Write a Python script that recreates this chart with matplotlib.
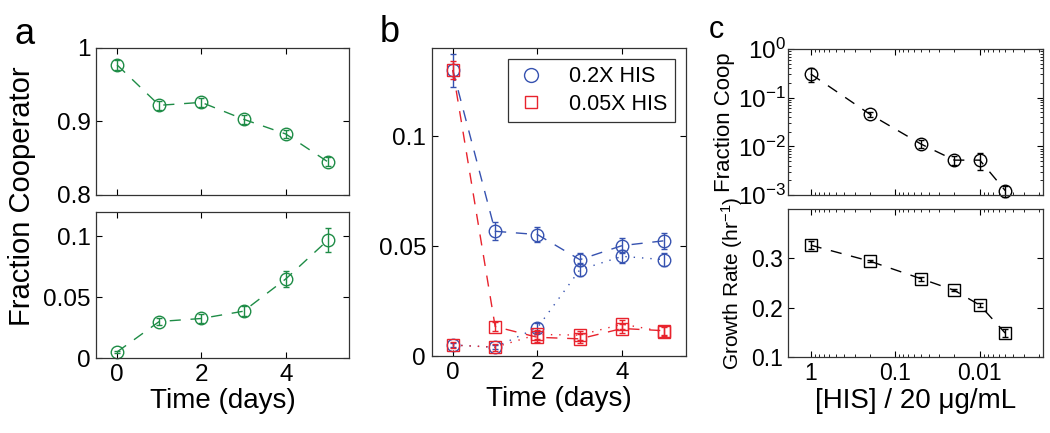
import numpy as np
import matplotlib
matplotlib.use('Agg')
import matplotlib.pyplot as plt
from matplotlib.lines import Line2D
from matplotlib.ticker import FixedLocator, NullFormatter

plt.rcParams['font.family'] = ['Liberation Sans', 'DejaVu Sans']
plt.rcParams['mathtext.default'] = 'regular'
plt.rcParams['xtick.direction'] = 'in'
plt.rcParams['ytick.direction'] = 'in'
plt.rcParams['xtick.top'] = True
plt.rcParams['ytick.right'] = True
plt.rcParams['axes.linewidth'] = 0.9
plt.rcParams['axes.edgecolor'] = '#333333'

# panel a
days = [0, 1, 2, 3, 4, 5]
coop_top = [0.977, 0.922, 0.926, 0.903, 0.883, 0.845]
coop_top_err = [0.007, 0.006, 0.006, 0.006, 0.006, 0.006]
coop_bot = [0.005, 0.030, 0.0325, 0.0385, 0.065, 0.097]
coop_bot_err = [0.001, 0.003, 0.004, 0.004, 0.0065, 0.010]

# panel b
his02_dash = [0.130, 0.0567, 0.0552, 0.0438, 0.0502, 0.0524]
his02_dash_err = [0.0075, 0.004, 0.0036, 0.003, 0.0034, 0.0037]
his02_dot = [0.005, 0.004, 0.0129, 0.0392, 0.0453, 0.0438]
his02_dot_err = [0.001, 0.001, 0.002, 0.003, 0.003, 0.003]
his005_dash = [0.130, 0.0134, 0.0085, 0.0078, 0.0125, 0.0115]
his005_dash_err = [0.004, 0.002, 0.002, 0.002, 0.002, 0.002]
his005_dot = [0.005, 0.004, 0.0098, 0.0095, 0.0145, 0.0110]
his005_dot_err = [0.0015, 0.0015, 0.002, 0.002, 0.002, 0.002]
legend_labels = ['0.2X HIS', '0.05X HIS']

# panel c
his_conc = [1, 0.2, 0.05, 0.02, 0.01, 0.005]
frac_coop = [0.307, 0.0457, 0.0112, 0.0052, 0.0052, 0.00123]
frac_coop_err = [0.1, 0.005, 0.002, 0.001, 0.002, 0.0003]
growth = [0.327, 0.2945, 0.259, 0.235, 0.205, 0.148]
growth_err = [0.008, 0.002, 0.004, 0.002, 0.004, 0.008]

green = '#1e8c46'
blue = '#3652b0'
red = '#e8232d'
dash = (8, 7)
dot = (1, 5)
tick_fs = 17.5

fig = plt.figure(figsize=(10.5, 4.33), dpi=100)

def series(ax, x, y, e, c, marker, ms, dashes):
    ax.plot(x, y, color=c, lw=1.0, dashes=dashes, marker=marker, ms=ms,
            mfc='none', mec=c, mew=1.0, clip_on=False)
    ax.errorbar(x, y, yerr=e, fmt='none', ecolor=c, elinewidth=1.0,
                capsize=2.5, capthick=1.0, clip_on=False)

# ---- a
a1 = fig.add_axes([0.0914, 0.5497, 0.241, 0.3395])
series(a1, days, coop_top, coop_top_err, green, 'o', 9, dash)
a1.set_xlim(-0.5, 5.5)
a1.set_ylim(0.8, 1.0)
a1.set_yticks([0.8, 0.9, 1.0])
a1.set_yticklabels(['0.8', '0.9', '1'])
a1.set_xticks([0, 2, 4])
a1.set_xticklabels([])

a2 = fig.add_axes([0.0914, 0.1732, 0.241, 0.337])
series(a2, days, coop_bot, coop_bot_err, green, 'o', 9, dash)
a2.set_xlim(-0.5, 5.5)
a2.set_ylim(0, 0.12)
a2.set_yticks([0, 0.05, 0.1])
a2.set_yticklabels(['0', '0.05', '0.1'])
a2.set_xticks([0, 2, 4])
a2.set_xlabel('Time (days)', fontsize=20, labelpad=2)
for ax in (a1, a2):
    ax.tick_params(labelsize=tick_fs, length=4, width=0.8, pad=4)
fig.text(0.021, 1 - 196 / 433, 'Fraction Cooperator', rotation=90,
         fontsize=21, ha='center', va='center')

# ---- b
b = fig.add_axes([0.4111, 0.1778, 0.2419, 0.7113])
series(b, days, his02_dash, his02_dash_err, blue, 'o', 9, dash)
series(b, days, his02_dot, his02_dot_err, blue, 'o', 9, dot)
series(b, days, his005_dash, his005_dash_err, red, 's', 8, dash)
series(b, days, his005_dot, his005_dot_err, red, 's', 8, dot)
b.set_xlim(-0.5, 5.5)
b.set_ylim(0, 0.14)
b.set_yticks([0, 0.05, 0.1])
b.set_yticklabels(['0', '0.05', '0.1'])
b.set_xticks([0, 2, 4])
b.set_xlabel('Time (days)', fontsize=20, labelpad=2)
b.tick_params(labelsize=tick_fs, length=4, width=0.8, pad=4)
handles = [Line2D([], [], ls='none', marker='o', ms=10, mfc='none', mec=blue, mew=1.0),
           Line2D([], [], ls='none', marker='s', ms=9, mfc='none', mec=red, mew=1.0)]
leg = b.legend(handles, legend_labels, loc='upper right', fontsize=15.5,
               fancybox=False, edgecolor='#333333', framealpha=1,
               handlelength=1.5, handletextpad=1.0, borderpad=0.35,
               labelspacing=0.3, borderaxespad=0.5)
leg.get_frame().set_linewidth(0.9)

# ---- c
c1 = fig.add_axes([0.7508, 0.5497, 0.2423, 0.3372])
series(c1, his_conc, frac_coop, frac_coop_err, 'black', 'o', 9, dash)
c1.set_xscale('log')
c1.set_yscale('log')
c1.set_xlim(1.84, 0.0018)
c1.set_ylim(1e-3, 1)
c1.set_yticks([1e-3, 1e-2, 1e-1, 1])
c1.xaxis.set_major_locator(FixedLocator([1, 0.1, 0.01]))
c1.xaxis.set_major_formatter(NullFormatter())
c1.xaxis.set_minor_formatter(NullFormatter())
c1.set_ylabel('Fraction Coop', fontsize=16, labelpad=2)

c2 = fig.add_axes([0.7508, 0.1762, 0.2423, 0.3404])
series(c2, his_conc, growth, growth_err, 'black', 's', 8, dash)
c2.set_xscale('log')
c2.set_xlim(1.84, 0.0018)
c2.set_ylim(0.1, 0.4)
c2.set_yticks([0.1, 0.2, 0.3])
c2.set_yticklabels(['0.1', '0.2', '0.3'])
c2.xaxis.set_major_locator(FixedLocator([1, 0.1, 0.01]))
c2.set_xticklabels(['1', '0.1', '0.01'])
c2.xaxis.set_minor_formatter(NullFormatter())
c2.set_ylabel('Growth Rate (hr$^{-1}$)', fontsize=15, labelpad=4)
c2.set_xlabel('[HIS] / 20 \u03bcg/mL', fontsize=20, labelpad=2)
for ax in (c1, c2):
    ax.tick_params(which='major', labelsize=16.5, length=4, width=0.8, pad=4)
    ax.tick_params(which='minor', length=2, width=0.6)
c1.tick_params(axis='y', pad=2, labelsize=17.5)

# panel letters
fig.text(25 / 1050, 1 - 34 / 433, 'a', fontsize=26, ha='center', va='center')
fig.text(390 / 1050, 1 - 32 / 433, 'b', fontsize=26, ha='center', va='center')
fig.text(716 / 1050, 1 - 30 / 433, 'c', fontsize=22, ha='center', va='center')

fig.savefig('out.png', dpi=100)
